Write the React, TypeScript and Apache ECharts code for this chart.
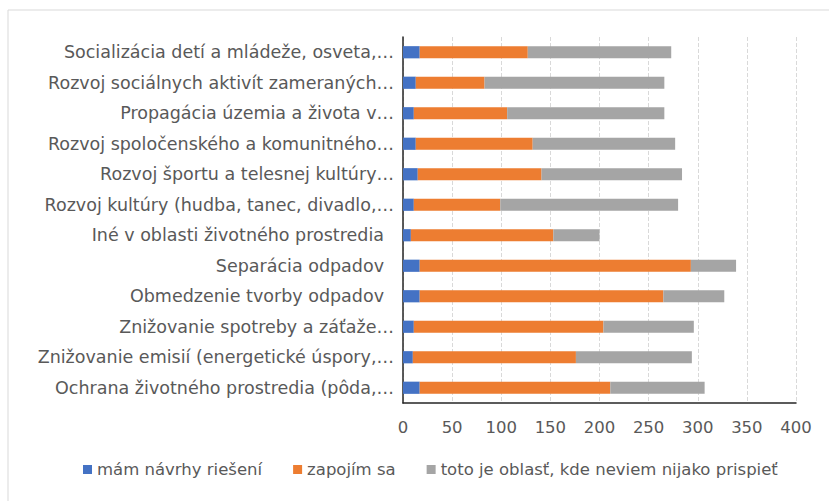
import React, { useEffect, useRef } from "react";
import * as echarts from "echarts";

const categories = [
  "Socializácia detí a mládeže, osveta,…",
  "Rozvoj sociálnych aktivít zameraných…",
  "Propagácia územia a života v…",
  "Rozvoj spoločenského a komunitného…",
  "Rozvoj športu a telesnej kultúry…",
  "Rozvoj kultúry (hudba, tanec, divadlo,…",
  "Iné v oblasti životného prostredia",
  "Separácia odpadov",
  "Obmedzenie tvorby odpadov",
  "Znižovanie spotreby a záťaže…",
  "Znižovanie emisií (energetické úspory,…",
  "Ochrana životného prostredia (pôda,…",
];

const seriesNames = [
  "mám návrhy riešení",
  "zapojím sa",
  "toto je oblasť, kde neviem nijako prispieť",
];

const navrhy = [17, 13, 11, 13, 15, 11, 8, 17, 17, 11, 10, 17];
const zapojim = [110, 70, 95, 119, 126, 88, 145, 276, 248, 193, 166, 194];
const neviem = [146, 183, 160, 145, 143, 181, 47, 46, 62, 92, 118, 96];

const xTicks = { min: 0, max: 400, interval: 50 };

const colors = ["#4472c4", "#ed7d31", "#a5a5a5"];

export default function App() {
  const ref = useRef<HTMLDivElement>(null);
  useEffect(() => {
    if (!ref.current) return;
    const chart = echarts.init(ref.current, undefined, { renderer: "svg" });
    const font = "DejaVu Sans";
    const mk = (name: string, data: number[], i: number) => ({
      name,
      type: "bar",
      stack: "total",
      data,
      barCategoryGap: "60%",
      itemStyle: { color: colors[i] },
      emphasis: { disabled: true },
    });
    chart.setOption({
      animation: false,
      textStyle: { fontFamily: font },
      graphic: [
        {
          type: "rect",
          shape: { x: 8, y: 10, width: 840, height: 520 },
          style: { fill: "none", stroke: "#d9d9d9", lineWidth: 1 },
          silent: true,
        },
      ],
      legend: {
        top: 456,
        left: 78,
        itemWidth: 9,
        itemHeight: 9,
        itemGap: 31,
        icon: "rect",
        textStyle: { color: "#595959", fontSize: 16.5, fontFamily: font },
        data: seriesNames,
      },
      grid: { left: 403, right: 33, top: 37, bottom: 98, containLabel: false },
      xAxis: {
        type: "value",
        min: xTicks.min,
        max: xTicks.max,
        interval: xTicks.interval,
        axisLine: { show: true, lineStyle: { color: "#262626", width: 1.5 } },
        axisTick: { show: false },
        splitLine: { show: true, lineStyle: { color: "#d9d9d9", type: "dashed" } },
        axisLabel: { color: "#595959", fontSize: 16.5, margin: 16 },
      },
      yAxis: {
        type: "category",
        inverse: true,
        data: categories,
        axisLine: { show: true, lineStyle: { color: "#262626", width: 1.5 } },
        axisTick: { show: false },
        axisLabel: {
          color: "#595959",
          fontSize: 17.5,
          margin: 9,
          formatter: (v: string) => (v.endsWith("…") ? v : `{p|${v}}`),
          rich: {
            p: { color: "#595959", fontSize: 17.5, fontFamily: font, padding: [0, 10, 0, 0] },
          },
        },
      },
      series: [
        mk(seriesNames[0], navrhy, 0),
        mk(seriesNames[1], zapojim, 1),
        mk(seriesNames[2], neviem, 2),
      ],
    });
    return () => chart.dispose();
  }, []);
  return (
    <div
      ref={ref}
      style={{ position: "fixed", left: 0, top: 0, width: 829, height: 501, background: "#fff" }}
    />
  );
}
